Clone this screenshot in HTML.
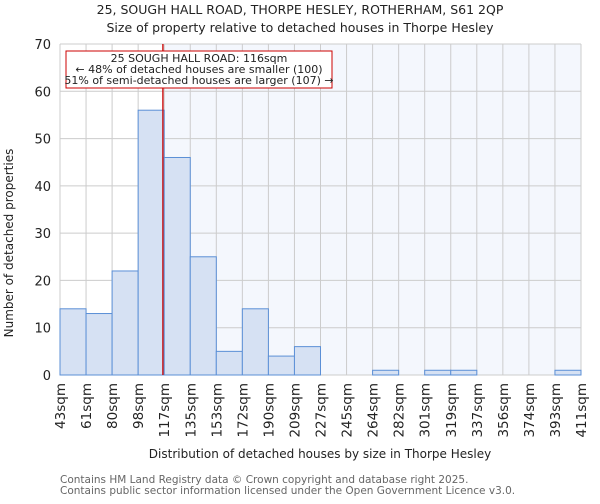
<!DOCTYPE html>
<html><head><meta charset="utf-8"><style>
body{margin:0;background:#fff;font-family:"DejaVu Sans","Liberation Sans",sans-serif;}
</style></head><body>
<svg width="600" height="500" xmlns="http://www.w3.org/2000/svg" font-family="DejaVu Sans, Liberation Sans, sans-serif">
<text x="300" y="14" text-anchor="middle" font-size="12.5" fill="#222">25, SOUGH HALL ROAD, THORPE HESLEY, ROTHERHAM, S61 2QP</text>
<text x="300" y="32" text-anchor="middle" font-size="12.5" fill="#222">Size of property relative to detached houses in Thorpe Hesley</text>
<g id="plot"></g>
<text transform="translate(13,243) rotate(-90)" text-anchor="middle" font-size="12" fill="#222">Number of detached properties</text>
<text x="320" y="458" text-anchor="middle" font-size="12" fill="#222">Distribution of detached houses by size in Thorpe Hesley</text>
<text x="60" y="483" font-size="10.5" fill="#666">Contains HM Land Registry data © Crown copyright and database right 2025.</text>
<text x="60" y="494" font-size="10.5" fill="#666">Contains public sector information licensed under the Open Government Licence v3.0.</text>
</svg>
<script>
const binLabels=["43sqm","61sqm","80sqm","98sqm","117sqm","135sqm","153sqm","172sqm","190sqm","209sqm","227sqm","245sqm","264sqm","282sqm","301sqm","319sqm","337sqm","356sqm","374sqm","393sqm","411sqm"];
const counts=[14,13,22,56,46,25,5,14,4,6,0,0,1,0,1,1,0,0,0,1];
const yTicks=[0,10,20,30,40,50,60,70];
const markerIndex=3.95;
const annotationLines=["25 SOUGH HALL ROAD: 116sqm","← 48% of detached houses are smaller (100)","51% of semi-detached houses are larger (107) →"];
const NS="http://www.w3.org/2000/svg";
const L=60,R=581,T=44,B=375,yMax=70;
const xs=i=>L+i*(R-L)/counts.length;
const ys=v=>B-v*(B-T)/yMax;
const g=document.getElementById('plot');
function mk(t,a,p){const e=document.createElementNS(NS,t);for(const k in a)e.setAttribute(k,a[k]);(p||g).appendChild(e);return e;}
const mx=xs(markerIndex);
let e=mk('rect',{x:mx,y:T,width:R-mx,height:B-T,fill:'#f4f7fd'});


for(let i=0;i<=counts.length;i++){e=mk('line',{x1:xs(i),x2:xs(i),y1:T,y2:B,stroke:'#ccc','stroke-width':1});

}
yTicks.forEach(v=>{e=mk('line',{x1:L,x2:R,y1:ys(v),y2:ys(v),stroke:'#ccc','stroke-width':1});


const t=mk('text',{x:L-9,y:ys(v)+5,'text-anchor':'end','font-size':13,fill:'#222'});t.textContent=v;

});
counts.forEach((c,i)=>{if(c<=0)return;const r=mk('rect',{x:xs(i),y:ys(c),width:xs(i+1)-xs(i),height:B-ys(c),fill:'#d6e1f3',stroke:'#5b8fd6','stroke-width':1});

});
binLabels.forEach((l,i)=>{const t=mk('text',{transform:`translate(${xs(i)+5},383) rotate(-90)`,'text-anchor':'end','font-size':13.5,fill:'#222'});t.textContent=l;

});
e=mk('line',{x1:mx,x2:mx,y1:T,y2:B,stroke:'#c00','stroke-width':1.3});


e=mk('rect',{x:66,y:51,width:266,height:37,fill:'#fff',stroke:'#c00','stroke-width':1});


annotationLines.forEach((s,i)=>{const t=mk('text',{x:199,y:62+i*11,'text-anchor':'middle','font-size':11,fill:'#222'});t.textContent=s;

});
</script>
</body></html>
